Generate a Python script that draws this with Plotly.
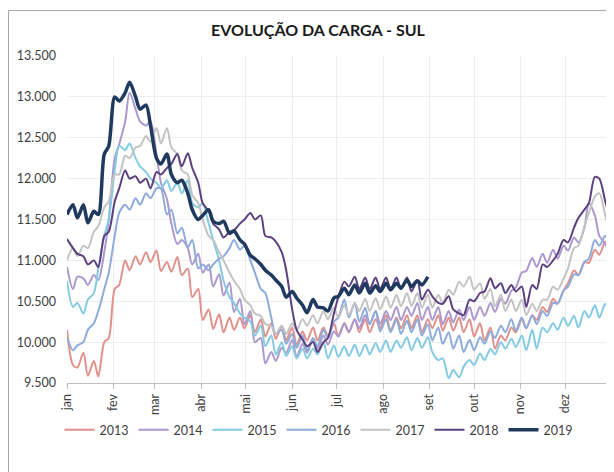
import plotly.graph_objects as go

# day-of-year positions of the samples (weekend low / mid-week high alternating)
DAYS = [0, 4, 7, 11, 14, 18, 21, 25, 28, 32, 35, 39, 42, 46, 49, 53, 56, 60, 63, 67,
        70, 74, 77, 81, 84, 88, 91, 95, 98, 102, 105, 109, 112, 116, 119, 123, 126, 130,
        133, 137, 140, 144, 147, 151, 154, 158, 161, 165, 168, 172, 175, 179, 182, 186,
        189, 193, 196, 200, 203, 207, 210, 214, 217, 221, 224, 228, 231, 235, 238, 242,
        245, 249, 252, 256, 259, 263, 266, 270, 273, 277, 280, 284, 287, 291, 294, 298,
        301, 305, 308, 312, 315, 319, 322, 326, 329, 333, 336, 340, 343, 347, 350, 354,
        357, 361, 364]

MONTH_START = [0, 31, 59, 90, 120, 151, 181, 212, 243, 273, 304, 334]
MONTH_LABELS = ["jan", "fev", "mar", "abr", "mai", "jun", "jul", "ago", "set", "out", "nov", "dez"]

Y2013 = [10150, 9720, 9690, 9870, 9590, 9770, 9580, 10000, 10050, 10650, 10700, 11000,
         10880, 11050, 10950, 11100, 10980, 11120, 10870, 10980, 10860, 11040, 10820, 10900,
         10550, 10650, 10270, 10400, 10160, 10340, 10120, 10300, 10150, 10300, 10170, 10330,
         10120, 10280, 10070, 10230, 10040, 10200, 10020, 10180, 9970, 10130, 10020, 10180,
         10020, 10180, 10070, 10230, 10070, 10230, 10120, 10280, 10120, 10280, 10120, 10280,
         10170, 10330, 10140, 10300, 10170, 10330, 10170, 10330, 10120, 10280, 10170, 10330,
         10140, 10300, 10140, 10300, 10120, 10280, 10070, 10230, 10020, 10180, 9920, 10080,
         10020, 10180, 10120, 10280, 10170, 10330, 10270, 10430, 10370, 10530, 10470, 10630,
         10720, 10880, 10820, 10980, 10970, 11130, 11070, 11230, 10950]

Y2014 = [10920, 10650, 10800, 10780, 10700, 10820, 10760, 11100, 11500, 12250, 12420, 12700,
         13050, 12850, 12700, 12650, 12700, 12300, 11950, 11750, 11450, 11200, 11250, 11150,
         10950, 11080, 10850, 10950, 10680, 10830, 10570, 10730, 10370, 10530, 10220, 10380,
         10000, 10050, 9740, 9880, 9770, 9930, 9870, 10030, 9820, 9980, 9870, 10030,
         9920, 10080, 9970, 10130, 10070, 10230, 10120, 10280, 10170, 10330, 10220, 10380,
         10220, 10380, 10270, 10430, 10270, 10430, 10320, 10480, 10270, 10430, 10270, 10430,
         10220, 10380, 10240, 10400, 10270, 10430, 10270, 10430, 10320, 10480, 10370, 10530,
         10470, 10630, 10670, 10850, 10870, 11030, 10920, 11080, 10970, 11130, 11020, 11180,
         11120, 11280, 11220, 11400, 11700, 11550, 11300, 11200, 11050]

Y2015 = [10750, 10430, 10480, 10350, 10520, 10600, 10900, 11300, 11500, 12100, 12400, 12350,
         12430, 12250, 12150, 12080, 12000, 11950, 11880, 11980, 11850, 11950, 11820, 11980,
         11700, 11650, 11700, 11450, 11250, 11000, 10750, 10550, 10480, 10350, 10300, 10250,
         10080, 10200, 9950, 10080, 9850, 10000, 9830, 9950, 9800, 9920, 9800, 9920,
         9850, 10000, 9800, 9960, 9820, 9950, 9830, 9970, 9830, 9970, 9850, 9990,
         9880, 10020, 9880, 10020, 9930, 10060, 9900, 10050, 9930, 10060, 9880, 9780,
         9800, 9560, 9660, 9570, 9700, 9780, 9720, 9860, 9780, 9920, 9850, 10000,
         9920, 10040, 9940, 10080, 9900, 10150, 9920, 10180, 10120, 10230, 10150, 10300,
         10200, 10320, 10180, 10380, 10300, 10450, 10300, 10470, 10200]

Y2016 = [10060, 9900, 9960, 10000, 10150, 10230, 10380, 10650, 10850, 11300, 11580, 11680,
         11620, 11760, 11680, 11820, 11760, 11880, 11880, 11560, 11620, 11330, 11400, 11160,
         11250, 10900, 10950, 10880, 10950, 11020, 11050, 11150, 11250, 11130, 11180, 11000,
         10850, 10650, 10600, 10300, 10100, 10150, 9980, 10100, 9930, 10080, 9900, 10050,
         9950, 10150, 10050, 10250, 10300, 10520, 10300, 10480, 10250, 10420, 10220, 10380,
         10130, 10280, 10120, 10280, 10100, 10260, 10120, 10280, 10080, 10220, 10020, 10180,
         9980, 10120, 9920, 10080, 9880, 10030, 9900, 10060, 9980, 10130, 10050, 10200,
         10120, 10280, 10140, 10300, 10170, 10330, 10220, 10380, 10320, 10480, 10470, 10630,
         10680, 10830, 10820, 10980, 11020, 11250, 11180, 11300, 11130]

Y2017 = [11000, 11150, 11050, 11180, 11150, 11350, 11420, 11650, 11720, 12050, 12050, 12280,
         12250, 12380, 12400, 12520, 12450, 12620, 12430, 12620, 12380, 12300, 12100, 12050,
         11800, 11700, 11500, 11300, 11250, 11100, 11000, 10850, 10750, 10650, 10520, 10450,
         10350, 10320, 10220, 10200, 10100, 10200, 10100, 10230, 10150, 10280, 10200, 10330,
         10230, 10380, 10280, 10420, 10300, 10450, 10330, 10480, 10380, 10530, 10380, 10540,
         10400, 10560, 10420, 10580, 10440, 10600, 10440, 10600, 10420, 10580, 10420, 10580,
         10480, 10640, 10580, 10740, 10680, 10800, 10640, 10720, 10530, 10650, 10440, 10580,
         10380, 10520, 10380, 10520, 10330, 10470, 10380, 10520, 10520, 10680, 10640, 10780,
         10900, 11150, 11180, 11420, 11580, 11780, 11820, 11550, 11330]

Y2018 = [11260, 11150, 11080, 11050, 10950, 11000, 10920, 11300, 11350, 11720, 11880, 12100,
         12000, 12030, 11950, 12000, 11880, 12080, 12050, 12130, 12180, 12300, 12150, 12310,
         12130, 11950, 11700, 11600, 11450, 11380, 11280, 11350, 11370, 11450, 11500, 11580,
         11500, 11550, 11300, 11280, 11230, 11100, 10880, 10400, 10150, 10030, 9950, 10000,
         9880, 10000, 10050, 10350, 10550, 10740, 10680, 10800, 10650, 10790, 10650, 10790,
         10650, 10790, 10650, 10790, 10650, 10790, 10620, 10760, 10520, 10640, 10560, 10480,
         10470, 10560, 10400, 10350, 10330, 10520, 10500, 10600, 10620, 10780, 10660, 10720,
         10600, 10700, 10620, 10680, 10430, 10700, 10650, 10950, 10920, 11000, 11080, 11250,
         11220, 11400, 11520, 11620, 11700, 12020, 12000, 11720, 11530]

Y2019 = [11560, 11680, 11520, 11680, 11460, 11600, 11560, 12300, 12400, 13000, 12950, 13050,
         13180, 13000, 12850, 12900, 12650, 12250, 12180, 12300, 12050, 11950, 11980, 11820,
         11620, 11500, 11550, 11620, 11480, 11450, 11480, 11330, 11360, 11250, 11200, 11060,
         11020, 10950, 10880, 10820, 10760, 10680, 10550, 10620, 10540, 10450, 10360, 10520,
         10430, 10420, 10380, 10540, 10560, 10660, 10580, 10700, 10600, 10720, 10600, 10690,
         10620, 10720, 10640, 10720, 10660, 10760, 10680, 10750, 10700, 10800]

SERIES = [
    ("2013", Y2013, "#E0918C", 2),
    ("2014", Y2014, "#AB98CE", 2),
    ("2015", Y2015, "#83CBE2", 2),
    ("2016", Y2016, "#8DABDB", 2),
    ("2017", Y2017, "#C3C3C3", 2),
    ("2018", Y2018, "#5C4180", 2),
    ("2019", Y2019, "#1F3A5E", 3.5),
]

FONT = "Lato, 'Open Sans', sans-serif"
W, H = 606, 464   # page body adds an 8px offset

fig = go.Figure()
for name, vals, color, width in SERIES:
    fig.add_trace(go.Scatter(
        x=DAYS[:len(vals)], y=vals, name=name, mode="lines",
        line=dict(color=color, width=width, shape="spline", smoothing=0.8),
    ))

fig.update_layout(
    width=W, height=H,
    margin=dict(l=59, r=2, t=48, b=89, autoexpand=False),
    paper_bgcolor="white", plot_bgcolor="white",
    separators=",.",
    font=dict(family=FONT, size=12.5, color="#404040"),
    title=dict(text="<b>EVOLUÇÃO DA CARGA - SUL</b>", x=310 / W, xref="container",
               xanchor="center", y=1 - 22 / H, yref="container", yanchor="middle",
               font=dict(family=FONT, size=16, color="#1a1a1a")),
    showlegend=True,
    legend=dict(orientation="h", xref="container", yref="container",
                x=51.5 / W, xanchor="left", y=1 - 422 / H, yanchor="middle",
                font=dict(family=FONT, size=12.5, color="#404040"),
                itemwidth=30, traceorder="normal", bgcolor="rgba(0,0,0,0)"),
    shapes=[dict(type="rect", xref="paper", yref="paper",
                 x0=-0.1073, x1=1.3, y0=-0.6, y1=1.139,
                 line=dict(color="#A6A6A6", width=1), fillcolor="rgba(0,0,0,0)", layer="below")],
)

fig.update_xaxes(
    range=[0, 365.5], tickmode="array", tickvals=MONTH_START, ticktext=MONTH_LABELS,
    tickangle=-90, ticks="outside", ticklen=5, tickcolor="#BFBFBF",
    showline=True, linecolor="#BFBFBF", linewidth=1, automargin=False,
    showgrid=True, gridcolor="#EDEDED", gridwidth=1, zeroline=False,
    tickfont=dict(family=FONT, size=12.5, color="#404040"),
)
fig.update_yaxes(
    range=[9500, 13500], dtick=500, tick0=9500, tickformat=",d", automargin=False,
    showgrid=True, gridcolor="#EDEDED", gridwidth=1, zeroline=False, showline=False,
    ticks="", ticklabelstandoff=10,
    tickfont=dict(family=FONT, size=12.5, color="#404040"),
)

fig.write_html("out.html")
